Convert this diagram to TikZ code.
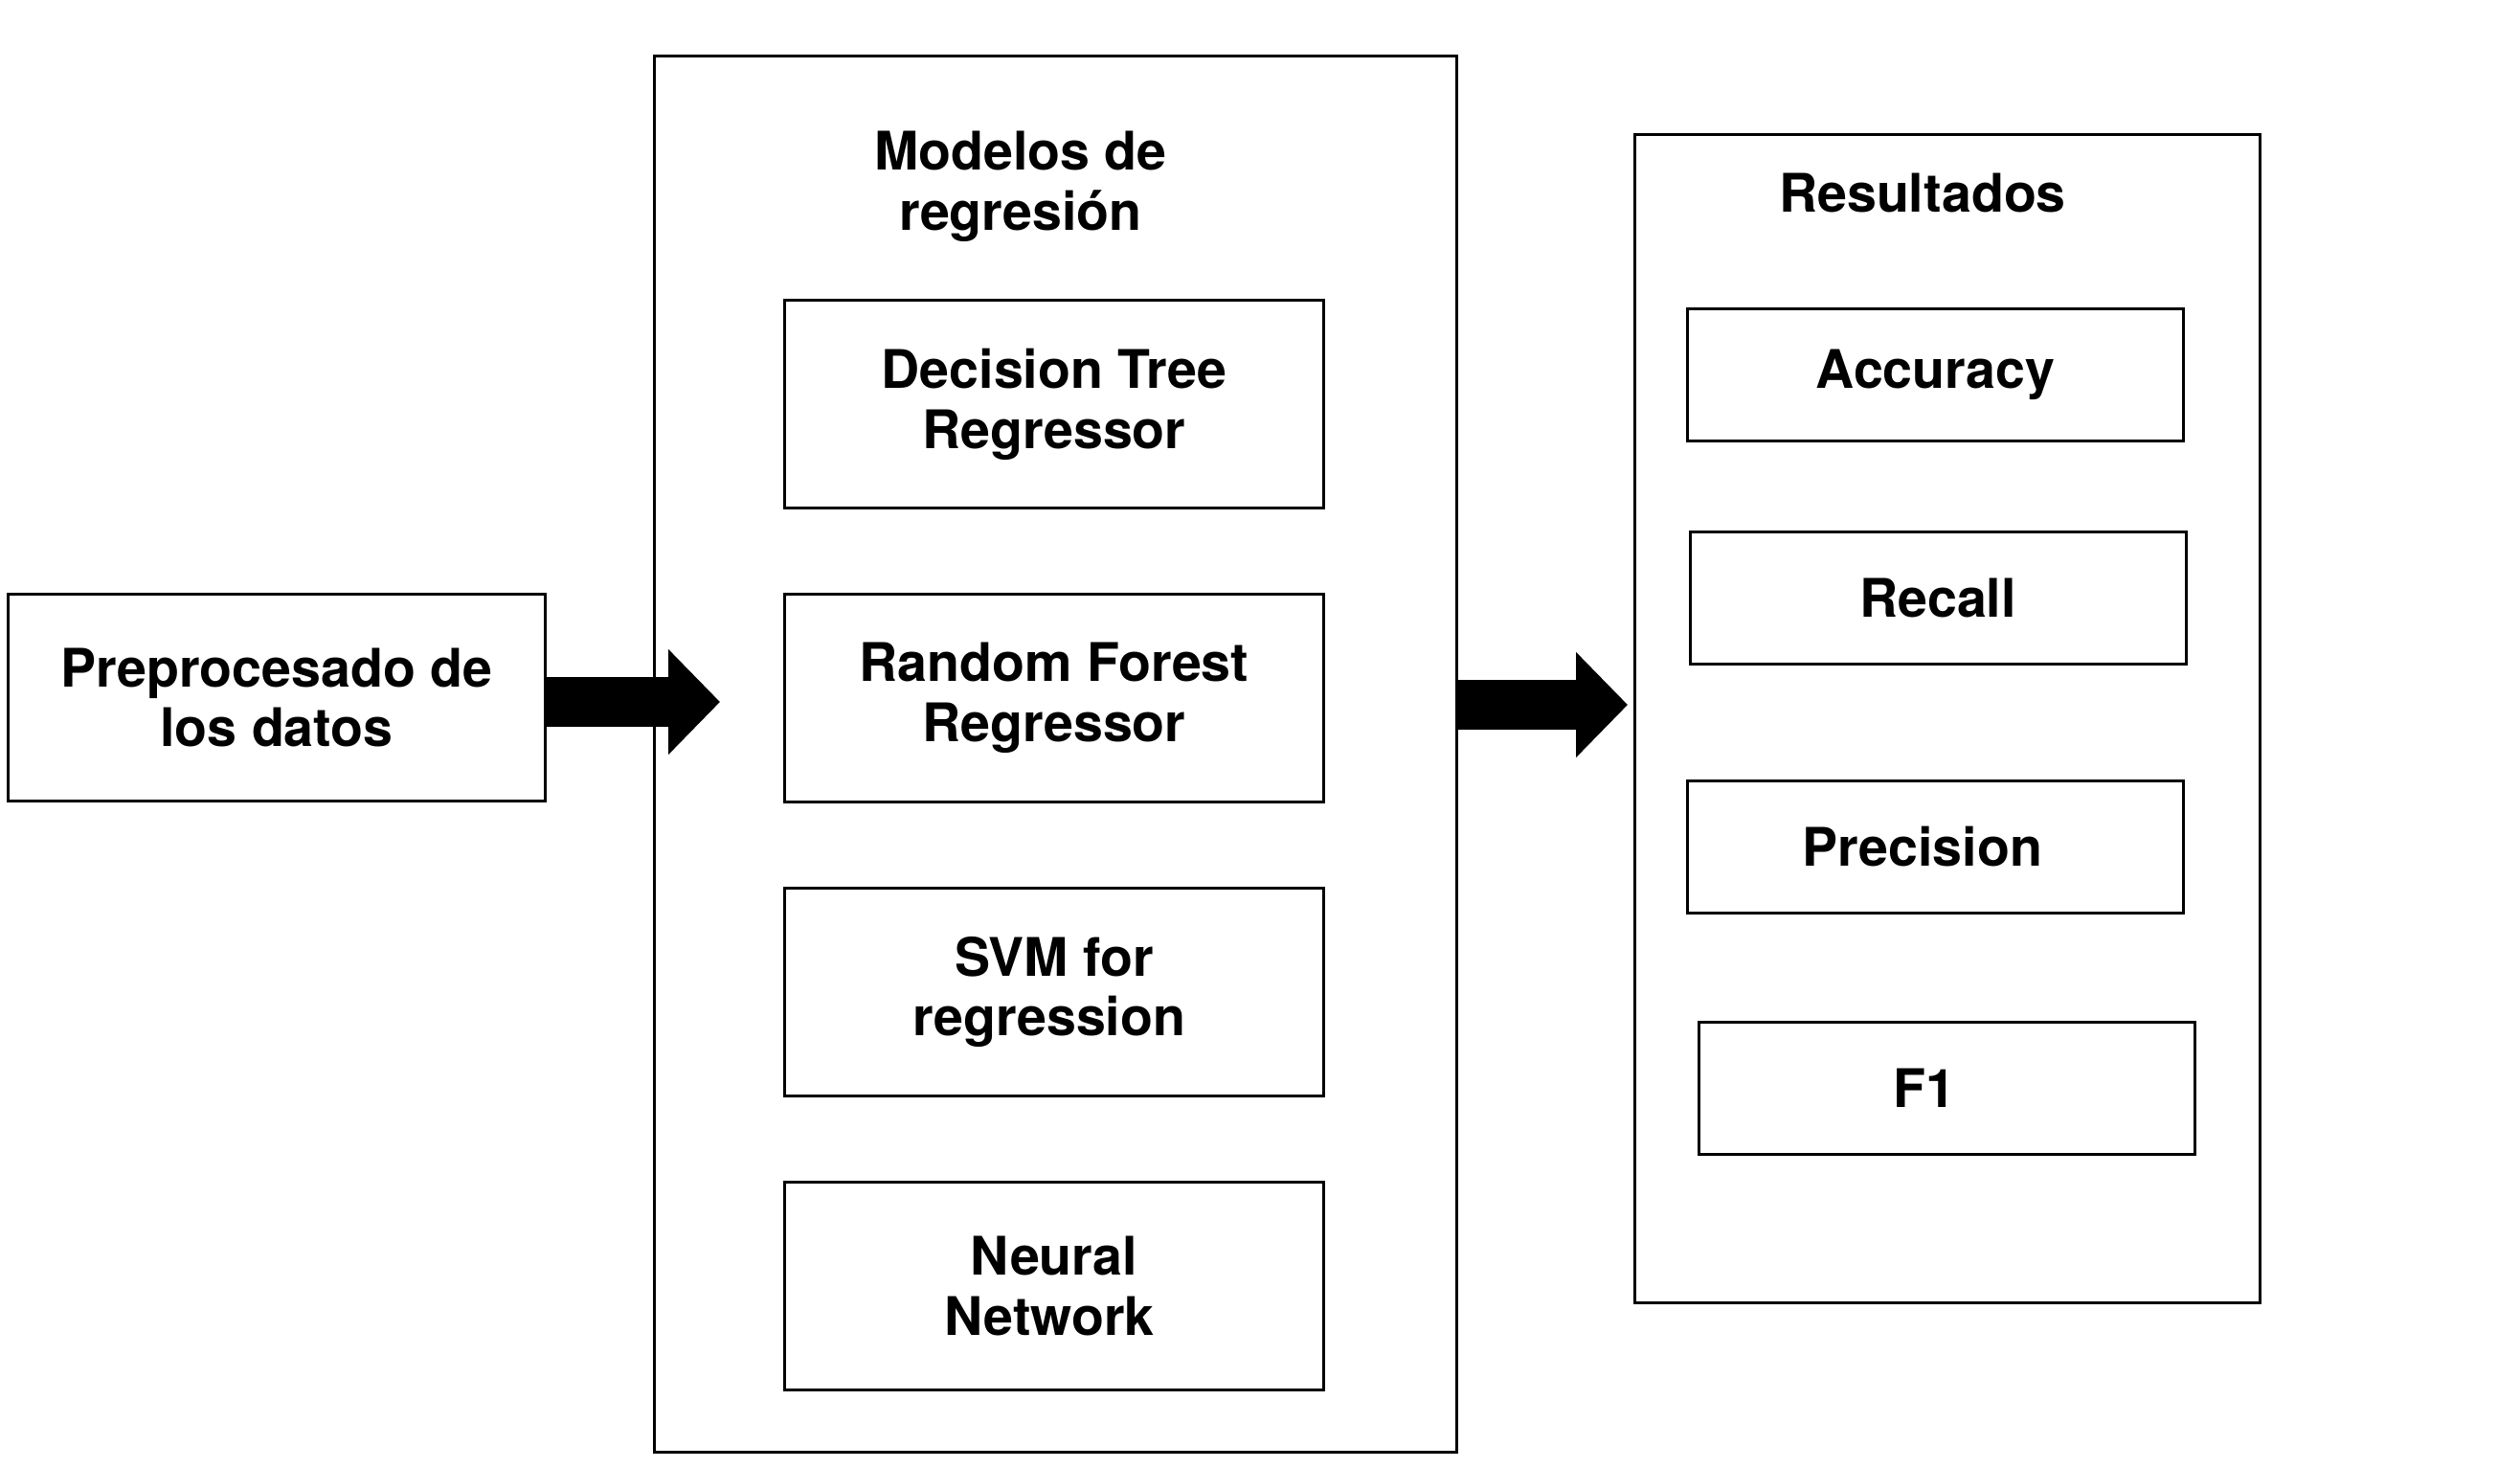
\documentclass[tikz,border=0pt]{standalone}
\usepackage{fontspec}
\setmainfont{TeX Gyre Heros}
\usepackage{tikz}
\usetikzlibrary{positioning,arrows.meta,calc}

\begin{document}
\begin{tikzpicture}[
  caja/.style={draw, line width=0.85pt, inner sep=0pt, align=center,
    font=\bfseries\fontsize{15.8}{17.9}\selectfont},
  modelo/.style={caja, minimum width=5.63cm, minimum height=2.17cm},
  metrica/.style={caja, minimum width=5.18cm, minimum height=1.38cm},
  marco/.style={draw, line width=0.85pt},
  titulo/.style={align=center, font=\bfseries\fontsize{15.8}{17.9}\selectfont},
  flecha/.style={line width=0.52cm, -{Triangle[length=0.54cm, width=1.07cm]}}
]
 \useasboundingbox (0,0) rectangle (26.32,-15.32);

 % preprocesado
 \node[caja, minimum width=5.61cm, minimum height=2.16cm] (prep) at (2.89,-7.285)
  {Preprocesado de\\los datos};

 % modelos de regresion
 \node[marco, minimum width=8.38cm, minimum height=14.58cm] (modelos) at (11.025,-7.875) {};
 \node[titulo] (tmodelos) at (10.66,-1.95) {Modelos de\\regresión};
 \node[modelo] (dtr) at (11.01,-4.22) {Decision Tree\\Regressor};
 \node[modelo, below=0.87cm of dtr] (rfr) {Random Forest\\Regressor};
 \node[modelo, below=0.87cm of rfr] (svm) {SVM for\\regression\hspace*{0.1cm}};
 \node[modelo, below=0.87cm of svm] (nn) {Neural\\Network\hspace*{0.1cm}};

 % resultados
 \node[marco, minimum width=6.53cm, minimum height=12.20cm] (res) at (20.34,-7.505) {};
 \node[titulo] (tres) at (20.08,-2.01) {Resultados};
 \node[metrica] (acc) at (20.215,-3.915) {Accuracy};
 \node[metrica] (rec) at (20.24,-6.245) {Recall};
 \node[metrica] (pre) at (20.215,-8.84) {Precision\hspace*{0.27cm}};
 \node[metrica] (f1) at (20.335,-11.365) {F1\hspace*{0.47cm}};

 % flechas
 \coordinate (p1) at ($(prep.east |- 0,-7.33)$);
 \coordinate (m1) at ($(modelos.west |- 0,-7.33)+(0.70,0)$);
 \coordinate (p2) at ($(modelos.east |- 0,-7.36)$);
 \coordinate (m2) at ($(res.west |- 0,-7.36)+(-0.06,0)$);
 \draw[flecha] (p1) -- (m1);
 \draw[flecha] (p2) -- (m2);
\end{tikzpicture}
\end{document}
